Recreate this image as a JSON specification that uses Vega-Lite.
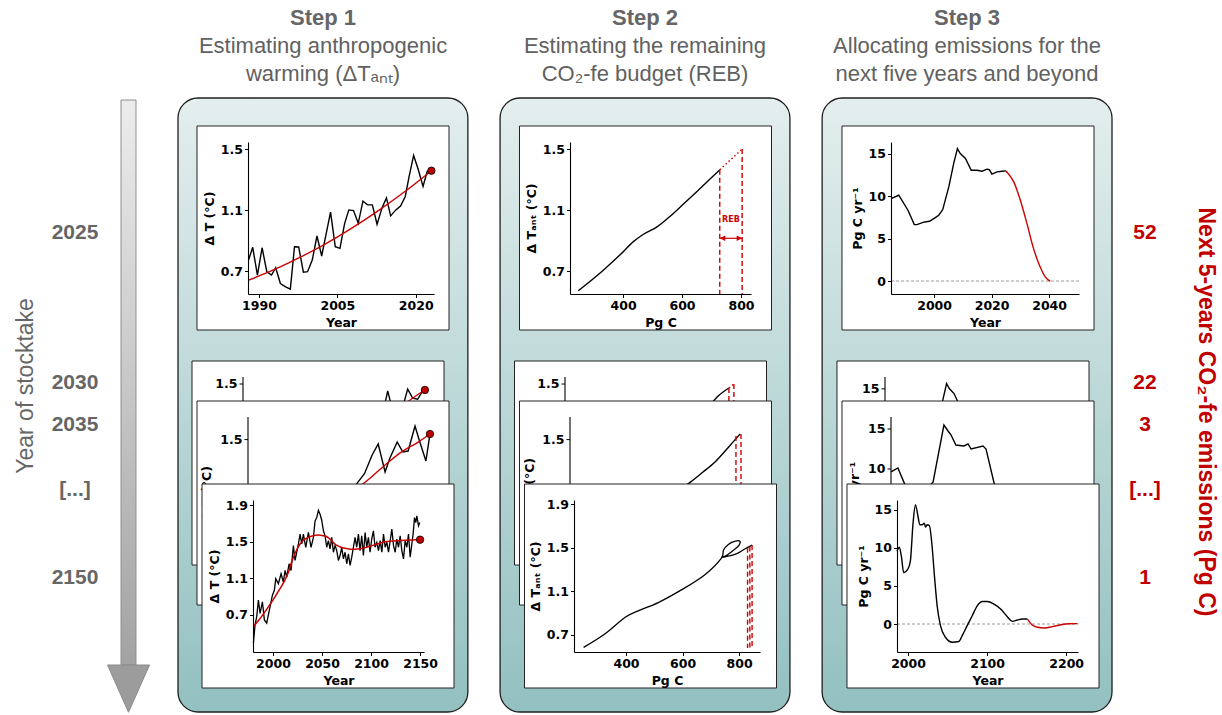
{
"$schema":"https://vega.github.io/schema/vega-lite/v6.json",
"width":1222,"height":715,"autosize":{"type":"none"},"padding":0,"background":"white",
"config":{"view":{"stroke":null},
 "axis":{"domainColor":"black","domainWidth":1.1,"tickColor":"black","tickWidth":1,"tickSize":3.5,"labelFont":"DejaVu Sans","labelFontWeight":"bold","labelFontSize":12.5,"labelColor":"black","labelPadding":2,"titleFont":"DejaVu Sans","titleFontWeight":"bold","titleFontSize":12.5,"titleColor":"black","titlePadding":4,"grid":false,"labelFlush":false,"labelOverlap":false,"labelBound":false}},
"resolve":{"scale":{"x":"independent","y":"independent"},"axis":{"x":"independent","y":"independent"}},
"datasets":{
"steps":[{"step":"Step 1"},{"step":"Step 2"},{"step":"Step 3"}],
"titles":[
{"step":"Step 1","line":"head","text":"Step 1"},{"step":"Step 1","line":"l1","text":"Estimating anthropogenic"},{"step":"Step 1","line":"l2","text":"warming (ΔTₐₙₜ)"},
{"step":"Step 2","line":"head","text":"Step 2"},{"step":"Step 2","line":"l1","text":"Estimating the remaining"},{"step":"Step 2","line":"l2","text":"CO₂-fe budget (REB)"},
{"step":"Step 3","line":"head","text":"Step 3"},{"step":"Step 3","line":"l1","text":"Allocating emissions for the"},{"step":"Step 3","line":"l2","text":"next five years and beyond"}],
"stocktakes":[{"slot":0,"year":"2025","emis":"52"},{"slot":1,"year":"2030","emis":"22"},{"slot":2,"year":"2035","emis":"3"},{"slot":3,"year":"[...]","emis":"[...]"},{"slot":4,"year":"2150","emis":"1"}],
"ticks_T":[{"y":0.7,"label":"0.7"},{"y":1.1,"label":"1.1"},{"y":1.5,"label":"1.5"}],
"ticks_E":[{"y":0,"label":"0"},{"y":5,"label":"5"},{"y":10,"label":"10"},{"y":15,"label":"15"}],
"p1a_obs":[{"x":1988.0,"y":0.772},{"x":1988.8,"y":0.856},{"x":1989.7,"y":0.674},{"x":1990.6,"y":0.853},{"x":1991.5,"y":0.696},{"x":1992.4,"y":0.674},{"x":1993.2,"y":0.722},{"x":1994.1,"y":0.619},{"x":1995.1,"y":0.597},{"x":1996.0,"y":0.582},{"x":1996.8,"y":0.86},{"x":1997.6,"y":0.858},{"x":1998.5,"y":0.693},{"x":1999.3,"y":0.696},{"x":2000.2,"y":0.772},{"x":2001.1,"y":0.93},{"x":2002.0,"y":0.799},{"x":2003.7,"y":1.086},{"x":2004.6,"y":0.86},{"x":2005.5,"y":0.849},{"x":2006.4,"y":1.013},{"x":2007.2,"y":1.101},{"x":2008.1,"y":1.097},{"x":2009.0,"y":1.013},{"x":2009.9,"y":1.158},{"x":2010.8,"y":1.134},{"x":2011.7,"y":1.134},{"x":2012.6,"y":1.007},{"x":2013.6,"y":1.119},{"x":2014.4,"y":1.18},{"x":2015.2,"y":1.062},{"x":2016.2,"y":1.101},{"x":2017.1,"y":1.127},{"x":2018.0,"y":1.189},{"x":2018.8,"y":1.331},{"x":2019.6,"y":1.458},{"x":2020.5,"y":1.364},{"x":2021.4,"y":1.255},{"x":2022.2,"y":1.353},{"x":2023.0,"y":1.358}],
"p1a_fit":[{"x":1988,"y":0.641},{"x":1993,"y":0.711},{"x":1998,"y":0.793},{"x":2003,"y":0.884},{"x":2008,"y":0.987},{"x":2013,"y":1.1},{"x":2018,"y":1.223},{"x":2023,"y":1.358}],
"p1a_end":[{"x":2023,"y":1.358}],
"p2a_curve":[{"x":248,"y":0.571},{"x":333,"y":0.706},{"x":389,"y":0.805},{"x":435,"y":0.893},{"x":468,"y":0.94},{"x":514,"y":0.988},{"x":559,"y":1.058},{"x":604,"y":1.138},{"x":649,"y":1.219},{"x":695,"y":1.303},{"x":728,"y":1.364}],
"p2a_extra":[{"x":728,"y":1.364},{"x":804,"y":1.5}],
"p2a_reb":[{"x":728,"y":1.364,"y0":0.55},{"x":804,"y":1.5,"y0":0.55}],
"p2a_span":[{"x":728,"x1":804,"y":0.915}],
"p2a_heads":[{"x":728,"y":0.915,"dir":"left"},{"x":804,"y":0.915,"dir":"right"}],
"p2a_label":[{"x":766,"y":1.035,"text":"REB"}],
"p3a_zero":[{"x":1985,"y":0},{"x":2050.4,"y":0}],
"p3a_hist":[{"x":1985.0,"y":9.72},{"x":1987.7,"y":10.12},{"x":1990.9,"y":8.35},{"x":1993.1,"y":6.65},{"x":1994.0,"y":6.65},{"x":1996.7,"y":6.97},{"x":1998.4,"y":7.05},{"x":2000.4,"y":7.48},{"x":2001.6,"y":7.76},{"x":2003.0,"y":8.43},{"x":2005.1,"y":11.1},{"x":2006.8,"y":13.86},{"x":2008.1,"y":15.63},{"x":2009.1,"y":15.04},{"x":2010.9,"y":14.45},{"x":2012.9,"y":13.07},{"x":2014.9,"y":13.07},{"x":2016.7,"y":12.95},{"x":2018.4,"y":13.19},{"x":2019.2,"y":13.15},{"x":2020.1,"y":12.6},{"x":2021.9,"y":12.87},{"x":2023.6,"y":12.95},{"x":2025.0,"y":12.99}],
"p3a_alloc":[{"x":2025.0,"y":12.99},{"x":2026.3,"y":12.45},{"x":2027.7,"y":11.69},{"x":2030.0,"y":9.53},{"x":2032.3,"y":6.77},{"x":2034.6,"y":3.82},{"x":2036.9,"y":1.65},{"x":2038.7,"y":0.47},{"x":2040.4,"y":0.0}],
"b1a_obs":[{"x":2012.0,"y":1.03},{"x":2014.4,"y":1.18},{"x":2016.2,"y":1.1},{"x":2018.0,"y":1.19},{"x":2019.0,"y":1.33},{"x":2019.9,"y":1.455},{"x":2020.6,"y":1.37},{"x":2021.5,"y":1.26},{"x":2022.5,"y":1.35},{"x":2023.4,"y":1.37},{"x":2024.3,"y":1.467},{"x":2025.4,"y":1.408},{"x":2026.5,"y":1.4},{"x":2027.6,"y":1.455},{"x":2028.1,"y":1.461}],
"b1a_fit":[{"x":2010,"y":1.03},{"x":2015,"y":1.14},{"x":2020,"y":1.26},{"x":2024,"y":1.376},{"x":2028.1,"y":1.461}],
"b1a_end":[{"x":2028.1,"y":1.461}],
"b1b_obs":[{"x":2010,"y":1.0},{"x":2013,"y":1.1},{"x":2015.0,"y":1.181},{"x":2016.8,"y":1.25},{"x":2018.7,"y":1.387},{"x":2020.2,"y":1.468},{"x":2021.9,"y":1.262},{"x":2023.1,"y":1.365},{"x":2024.9,"y":1.482},{"x":2026.3,"y":1.409},{"x":2027.6,"y":1.416},{"x":2029.3,"y":1.6},{"x":2030.5,"y":1.482},{"x":2032.0,"y":1.343},{"x":2033.0,"y":1.541}],
"b1b_fit":[{"x":2010,"y":1.06},{"x":2016.7,"y":1.181},{"x":2021.9,"y":1.314},{"x":2026,"y":1.41},{"x":2030.1,"y":1.482},{"x":2033,"y":1.541}],
"b1b_end":[{"x":2033,"y":1.541}],
"b2a_curve":[{"x":600,"y":1.1},{"x":650,"y":1.2},{"x":700,"y":1.33},{"x":736,"y":1.415},{"x":776,"y":1.474}],
"b2a_extra":[{"x":776,"y":1.474},{"x":793,"y":1.5}],
"b2a_reb":[{"x":776,"y":1.474,"y0":0.55},{"x":793,"y":1.5,"y0":0.55}],
"b2b_curve":[{"x":560,"y":1.1},{"x":624,"y":1.181},{"x":670,"y":1.26},{"x":712,"y":1.336},{"x":760,"y":1.45},{"x":797,"y":1.541}],
"b2b_reb":[{"x":783,"y":1.526,"y0":0.56},{"x":800,"y":1.541,"y0":0.56}],
"b3b_curve":[{"x":1985,"y":9.63},{"x":1988,"y":10.13},{"x":1991.5,"y":7.75},{"x":1995,"y":6.7},{"x":1999,"y":7.1},{"x":2001.5,"y":7.75},{"x":2003.3,"y":8.38},{"x":2008,"y":15.5},{"x":2009.8,"y":14.75},{"x":2011.1,"y":14.25},{"x":2013.2,"y":13.0},{"x":2016.7,"y":12.88},{"x":2018.5,"y":13.13},{"x":2019.8,"y":12.5},{"x":2025,"y":12.88},{"x":2026.3,"y":12.5},{"x":2030.2,"y":7.75},{"x":2033,"y":4.0},{"x":2036,"y":1.5}],
"p1c_obs":[{"x":1980.0,"y":0.394},{"x":1981.7,"y":0.592},{"x":1983.4,"y":0.682},{"x":1985.1,"y":0.862},{"x":1986.8,"y":0.718},{"x":1989.2,"y":0.844},{"x":1991.2,"y":0.646},{"x":1993.6,"y":0.61},{"x":1997.0,"y":0.79},{"x":1999.4,"y":0.916},{"x":2001.4,"y":0.97},{"x":2002.8,"y":1.096},{"x":2005.5,"y":1.042},{"x":2008.2,"y":1.15},{"x":2010.6,"y":1.06},{"x":2012.3,"y":1.186},{"x":2014.0,"y":1.114},{"x":2016.4,"y":1.259},{"x":2018.4,"y":1.186},{"x":2020.8,"y":1.457},{"x":2022.5,"y":1.295},{"x":2025.9,"y":1.475},{"x":2027.6,"y":1.583},{"x":2029.3,"y":1.475},{"x":2031.0,"y":1.583},{"x":2033.4,"y":1.439},{"x":2036.1,"y":1.601},{"x":2038.8,"y":1.439},{"x":2041.2,"y":1.547},{"x":2042.9,"y":1.727},{"x":2044.6,"y":1.763},{"x":2046.3,"y":1.842},{"x":2048.0,"y":1.799},{"x":2049.7,"y":1.734},{"x":2051.4,"y":1.619},{"x":2053.1,"y":1.565},{"x":2054.8,"y":1.439},{"x":2056.5,"y":1.511},{"x":2058.2,"y":1.421},{"x":2059.9,"y":1.547},{"x":2061.6,"y":1.385},{"x":2063.3,"y":1.457},{"x":2065.0,"y":1.403},{"x":2066.7,"y":1.295},{"x":2068.4,"y":1.349},{"x":2070.1,"y":1.439},{"x":2071.8,"y":1.313},{"x":2073.5,"y":1.385},{"x":2075.2,"y":1.259},{"x":2076.9,"y":1.367},{"x":2078.6,"y":1.241},{"x":2080.3,"y":1.331},{"x":2082.0,"y":1.439},{"x":2083.7,"y":1.547},{"x":2085.4,"y":1.439},{"x":2087.1,"y":1.583},{"x":2088.8,"y":1.403},{"x":2090.5,"y":1.565},{"x":2092.2,"y":1.349},{"x":2093.9,"y":1.601},{"x":2095.6,"y":1.439},{"x":2097.3,"y":1.547},{"x":2099.0,"y":1.385},{"x":2100.7,"y":1.529},{"x":2102.4,"y":1.619},{"x":2104.1,"y":1.439},{"x":2105.9,"y":1.493},{"x":2107.6,"y":1.403},{"x":2109.3,"y":1.511},{"x":2111.0,"y":1.385},{"x":2112.7,"y":1.583},{"x":2114.4,"y":1.439},{"x":2116.1,"y":1.493},{"x":2117.8,"y":1.385},{"x":2119.5,"y":1.511},{"x":2121.2,"y":1.637},{"x":2122.9,"y":1.457},{"x":2124.6,"y":1.385},{"x":2126.3,"y":1.529},{"x":2128.0,"y":1.439},{"x":2129.7,"y":1.565},{"x":2131.4,"y":1.403},{"x":2133.1,"y":1.313},{"x":2134.8,"y":1.511},{"x":2136.5,"y":1.439},{"x":2138.2,"y":1.583},{"x":2139.9,"y":1.331},{"x":2141.6,"y":1.475},{"x":2142.9,"y":1.583},{"x":2144.3,"y":1.763},{"x":2145.6,"y":1.709},{"x":2146.7,"y":1.781},{"x":2148.4,"y":1.673},{"x":2149.7,"y":1.709}],
"p1c_fit":[{"x":1980,"y":0.574},{"x":1986,"y":0.65},{"x":1991.9,"y":0.736},{"x":1997,"y":0.815},{"x":2002,"y":0.898},{"x":2007,"y":0.985},{"x":2012,"y":1.078},{"x":2016,"y":1.175},{"x":2019,"y":1.277},{"x":2023,"y":1.385},{"x":2027.6,"y":1.475},{"x":2031,"y":1.515},{"x":2036,"y":1.547},{"x":2041,"y":1.565},{"x":2046,"y":1.572},{"x":2051,"y":1.566},{"x":2055,"y":1.554},{"x":2059,"y":1.52},{"x":2063,"y":1.475},{"x":2068,"y":1.445},{"x":2073.5,"y":1.428},{"x":2080,"y":1.418},{"x":2087,"y":1.421},{"x":2094,"y":1.435},{"x":2101,"y":1.457},{"x":2108,"y":1.48},{"x":2114,"y":1.5},{"x":2121,"y":1.507},{"x":2128,"y":1.511},{"x":2135,"y":1.515},{"x":2141.6,"y":1.518},{"x":2150,"y":1.522}],
"p1c_end":[{"x":2150,"y":1.522}],
"p2c_curve":[{"i":0,"x":250,"y":0.586},{"i":1,"x":326,"y":0.711},{"i":2,"x":397,"y":0.863},{"i":3,"x":443,"y":0.921},{"i":4,"x":514,"y":0.997},{"i":5,"x":596,"y":1.113},{"i":6,"x":678,"y":1.25},{"i":7,"x":737,"y":1.402},{"i":8,"x":745,"y":1.479},{"i":9,"x":762,"y":1.53},{"i":10,"x":784,"y":1.558},{"i":11,"x":802,"y":1.561},{"i":12,"x":800,"y":1.524},{"i":13,"x":781,"y":1.479},{"i":14,"x":758,"y":1.433},{"i":15,"x":742,"y":1.412},{"i":16,"x":765,"y":1.424},{"i":17,"x":794,"y":1.448},{"i":18,"x":820,"y":1.488},{"i":19,"x":846,"y":1.524}],
"p2c_reb":[{"x":830,"y":1.5,"y0":0.58},{"x":838,"y":1.51,"y0":0.58},{"x":846,"y":1.524,"y0":0.58}],
"p3c_zero":[{"x":1986,"y":0},{"x":2215,"y":0}],
"p3c_hist":[{"x":1986.0,"y":9.57},{"x":1989.0,"y":10.09},{"x":1991.5,"y":8.91},{"x":1994.5,"y":6.74},{"x":1999.5,"y":7.17},{"x":2002.9,"y":8.26},{"x":2006.3,"y":13.26},{"x":2009.3,"y":15.65},{"x":2012.6,"y":14.13},{"x":2014.8,"y":13.04},{"x":2017.7,"y":13.04},{"x":2020.7,"y":13.26},{"x":2022.0,"y":12.74},{"x":2024.1,"y":13.04},{"x":2027.0,"y":12.91},{"x":2030.4,"y":10.22},{"x":2033.4,"y":6.3},{"x":2036.8,"y":2.39},{"x":2041.0,"y":-0.22},{"x":2047.3,"y":-1.74},{"x":2055.8,"y":-2.39},{"x":2064.3,"y":-2.3},{"x":2068.5,"y":-1.52},{"x":2074.8,"y":-0.22},{"x":2081.2,"y":1.09},{"x":2087.5,"y":2.39},{"x":2093.9,"y":2.96},{"x":2100.2,"y":2.96},{"x":2108.7,"y":2.61},{"x":2117.1,"y":1.96},{"x":2125.6,"y":0.96},{"x":2131.9,"y":0.35},{"x":2138.3,"y":0.52},{"x":2144.6,"y":0.65},{"x":2151.0,"y":0.65}],
"p3c_alloc":[{"x":2151.0,"y":0.65},{"x":2157.3,"y":-0.13},{"x":2163.7,"y":-0.43},{"x":2172.1,"y":-0.52},{"x":2182.7,"y":-0.35},{"x":2193.3,"y":-0.09},{"x":2203.8,"y":0.04},{"x":2214.4,"y":0.05}]
},
"layer":[
{"data":{"name":"steps"},
 "mark":{"type":"rect","fill":{"gradient":"linear","x1":0,"y1":0,"x2":0,"y2":1,"stops":[{"offset":0,"color":"#e4eeee"},{"offset":1,"color":"#93c0c0"}]},"stroke":"#1f1f1f","strokeWidth":1.3,"cornerRadius":20},
 "encoding":{"x":{"field":"step","type":"nominal","scale":{"type":"band","domain":["Step 1","Step 2","Step 3"],"range":[178,1112],"paddingInner":0.1,"paddingOuter":0},"axis":null},
  "y":{"datum":0,"type":"quantitative","scale":{"domain":[0,1],"range":[98,712],"nice":false,"zero":false},"axis":null},"y2":{"datum":1}}},
{"data":{"name":"titles"},
 "encoding":{"x":{"field":"step","type":"nominal","scale":{"type":"point","domain":["Step 1","Step 2","Step 3"],"range":[323,967],"padding":0},"axis":null},
  "y":{"field":"line","type":"nominal","scale":{"type":"point","domain":["head","l1","l2"],"range":[18,74],"padding":0},"axis":null},
  "text":{"field":"text"}},
 "layer":[
  {"transform":[{"filter":"datum.line === 'head'"}],"mark":{"type":"text","font":"Liberation Sans","fontWeight":"bold","fontSize":22,"fill":"#666666","baseline":"middle"}},
  {"transform":[{"filter":"datum.line !== 'head'"}],"mark":{"type":"text","font":"Liberation Sans","fontSize":22,"fill":"#616161","baseline":"middle"}}
 ]},
{"layer":[
  {"data":{"values":[{}]},"mark":{"type":"bar","width":15,"fill":{"gradient":"linear","x1":0,"y1":0,"x2":0,"y2":1,"stops":[{"offset":0,"color":"#ececec"},{"offset":1,"color":"#a3a3a3"}]},"stroke":"#8f8f8f","strokeWidth":1},
   "encoding":{"x":{"datum":2,"type":"quantitative","scale":{"domain":[0,1,2,3,4],"range":[25,75,128.5,1145,1207],"nice":false,"zero":false},"axis":null},
    "y":{"datum":-1,"type":"quantitative","scale":{"domain":[-1,0,1,2,3,4,5],"range":[100,233,383,425,490,578,665],"nice":false,"zero":false},"axis":null},"y2":{"datum":5}}},
  {"data":{"values":[{}]},"mark":{"type":"point","shape":"M -1 0 L 1 0 L 0 2.25 Z","size":1764,"filled":true,"fill":"#9c9c9c","stroke":"#8a8a8a","strokeWidth":1,"opacity":1},
   "encoding":{"x":{"datum":2,"type":"quantitative","scale":{"domain":[0,1,2,3,4],"range":[25,75,128.5,1145,1207],"nice":false,"zero":false},"axis":null},
    "y":{"datum":5,"type":"quantitative","scale":{"domain":[-1,0,1,2,3,4,5],"range":[100,233,383,425,490,578,665],"nice":false,"zero":false},"axis":null}}},
  {"data":{"name":"stocktakes"},"mark":{"type":"text","font":"Liberation Sans","fontWeight":"bold","fontSize":21,"fill":"#666666","align":"center","baseline":"middle"},
   "encoding":{"x":{"datum":1,"type":"quantitative","scale":{"domain":[0,1,2,3,4],"range":[25,75,128.5,1145,1207],"nice":false,"zero":false},"axis":null},
    "y":{"field":"slot","type":"quantitative","scale":{"domain":[-1,0,1,2,3,4,5],"range":[100,233,383,425,490,578,665],"nice":false,"zero":false},"axis":null},"text":{"field":"year"}}},
  {"data":{"name":"stocktakes"},"mark":{"type":"text","font":"Liberation Sans","fontWeight":"bold","fontSize":21,"fill":"#c00000","align":"center","baseline":"middle"},
   "encoding":{"x":{"datum":3,"type":"quantitative","scale":{"domain":[0,1,2,3,4],"range":[25,75,128.5,1145,1207],"nice":false,"zero":false},"axis":null},
    "y":{"field":"slot","type":"quantitative","scale":{"domain":[-1,0,1,2,3,4,5],"range":[100,233,383,425,490,578,665],"nice":false,"zero":false},"axis":null},"text":{"field":"emis"}}},
  {"data":{"values":[{"t":"Year of stocktake"}]},"mark":{"type":"text","angle":270,"font":"Liberation Sans","fontSize":23,"fill":"#666666","align":"center","baseline":"middle"},
   "encoding":{"x":{"datum":0,"type":"quantitative","scale":{"domain":[0,1,2,3,4],"range":[25,75,128.5,1145,1207],"nice":false,"zero":false},"axis":null},
    "y":{"datum":1.07,"type":"quantitative","scale":{"domain":[-1,0,1,2,3,4,5],"range":[100,233,383,425,490,578,665],"nice":false,"zero":false},"axis":null},"text":{"field":"t"}}},
  {"data":{"values":[{"t":"Next 5-years CO₂-fe emissions (Pg C)"}]},"mark":{"type":"text","angle":90,"font":"Liberation Sans","fontWeight":"bold","fontSize":23,"fill":"#c00000","align":"center","baseline":"middle"},
   "encoding":{"x":{"datum":4,"type":"quantitative","scale":{"domain":[0,1,2,3,4],"range":[25,75,128.5,1145,1207],"nice":false,"zero":false},"axis":null},
    "y":{"datum":1.69,"type":"quantitative","scale":{"domain":[-1,0,1,2,3,4,5],"range":[100,233,383,425,490,578,665],"nice":false,"zero":false},"axis":null},"text":{"field":"t"}}}
 ]},
{"data":{"name":"steps"},"mark":{"type":"rect","fill":"white","stroke":"#222222","strokeWidth":1},
 "encoding":{"x":{"field":"step","type":"nominal","scale":{"type":"band","domain":["Step 1","Step 2","Step 3"],"range":[197,1094],"paddingInner":0.2186,"paddingOuter":0},"axis":null},
  "y":{"datum":0,"type":"quantitative","scale":{"domain":[0,1],"range":[126,330],"nice":false,"zero":false},"axis":null},"y2":{"datum":1}}},
{"encoding":{"x":{"field":"x","type":"quantitative","scale":{"domain":[1987.9,2023.5],"range":[248,434],"nice":false,"zero":false},"axis":{"orient":"bottom","offset":-421,"values":[1990,2005,2020],"format":"d","title":"Year","zindex":1}},
  "y":{"field":"y","type":"quantitative","scale":{"domain":[0.55,1.546],"range":[294,142],"nice":false,"zero":false},"axis":{"orient":"left","offset":-248,"values":[0.7,1.1,1.5],"format":".1f","title":"Δ T (°C)","zindex":1}}},
 "layer":[
  {"data":{"name":"p1a_obs"},"mark":{"type":"line","color":"black","strokeWidth":1.4}},
  {"data":{"name":"p1a_fit"},"mark":{"type":"line","color":"#cc0000","strokeWidth":1.4,"interpolate":"monotone"}},
  {"data":{"name":"p1a_end"},"mark":{"type":"point","filled":true,"fill":"#c00000","stroke":"black","strokeWidth":0.8,"size":55,"opacity":1}}
 ]},
{"encoding":{"x":{"field":"x","type":"quantitative","scale":{"domain":[220,834],"range":[570,751],"nice":false,"zero":false},"axis":{"orient":"bottom","offset":-421,"values":[400,600,800],"format":"d","title":"Pg C","zindex":1}},
  "y":{"field":"y","type":"quantitative","scale":{"domain":[0.55,1.546],"range":[294,142],"nice":false,"zero":false},"axis":{"orient":"left","offset":-570,"values":[0.7,1.1,1.5],"format":".1f","title":"Δ Tₐₙₜ (°C)","zindex":1}}},
 "layer":[
  {"data":{"name":"p2a_curve"},"mark":{"type":"line","color":"black","strokeWidth":1.4,"interpolate":"monotone"}},
  {"data":{"name":"p2a_extra"},"mark":{"type":"line","color":"#cc0000","strokeWidth":1.4,"strokeDash":[1.5,2.5]}},
  {"data":{"name":"p2a_reb"},"mark":{"type":"rule","color":"#cc0000","strokeWidth":1.4,"strokeDash":[5,3]},"encoding":{"y2":{"field":"y0"}}},
  {"data":{"name":"p2a_span"},"mark":{"type":"rule","color":"#cc0000","strokeWidth":1.2},"encoding":{"x2":{"field":"x1"}}},
  {"data":{"name":"p2a_heads"},"mark":{"type":"point","filled":true,"fill":"#cc0000","size":30,"opacity":1},"encoding":{"shape":{"field":"dir","type":"nominal","scale":{"domain":["left","right"],"range":["M0,0L2,-1L2,1Z","M0,0L-2,-1L-2,1Z"]},"legend":null}}},
  {"data":{"name":"p2a_label"},"mark":{"type":"text","font":"DejaVu Sans","fontWeight":"bold","fontSize":8,"fill":"#cc0000","align":"center","baseline":"middle"},"encoding":{"text":{"field":"text"}}}
 ]},
{"encoding":{"x":{"field":"x","type":"quantitative","scale":{"domain":[1985,2050.4],"range":[891,1079],"nice":false,"zero":false},"axis":{"orient":"bottom","offset":-421,"values":[2000,2020,2040],"format":"d","title":"Year","zindex":1}},
  "y":{"field":"y","type":"quantitative","scale":{"domain":[-1.53,16.4],"range":[294,142],"nice":false,"zero":false},"axis":{"orient":"left","offset":-891,"values":[0,5,10,15],"format":"d","title":"Pg C yr⁻¹","zindex":1}}},
 "layer":[
  {"data":{"name":"p3a_zero"},"mark":{"type":"line","color":"#9a9a9a","strokeWidth":1,"strokeDash":[3,2]}},
  {"data":{"name":"p3a_hist"},"mark":{"type":"line","color":"black","strokeWidth":1.4}},
  {"data":{"name":"p3a_alloc"},"mark":{"type":"line","color":"#cc0000","strokeWidth":1.4,"interpolate":"monotone"}}
 ]},
{"data":{"name":"steps"},"mark":{"type":"rect","fill":"white","stroke":"#222222","strokeWidth":1},
 "encoding":{"x":{"field":"step","type":"nominal","scale":{"type":"band","domain":["Step 1","Step 2","Step 3"],"range":[192,1089],"paddingInner":0.2186,"paddingOuter":0},"axis":null},
  "y":{"datum":0,"type":"quantitative","scale":{"domain":[0,1],"range":[361,565],"nice":false,"zero":false},"axis":null},"y2":{"datum":1}}},
{"layer":[
  {"data":{"name":"b1a_obs"},"mark":{"type":"line","color":"black","strokeWidth":1.4},"encoding":{"x":{"field":"x","type":"quantitative","scale":{"domain":[1988,2029],"range":[243,429],"nice":false,"zero":false},"axis":null},"y":{"field":"y","type":"quantitative","scale":{"domain":[0.55,1.546],"range":[529,377],"nice":false,"zero":false},"axis":null}}},
  {"data":{"name":"b1a_fit"},"mark":{"type":"line","color":"#cc0000","strokeWidth":1.4,"interpolate":"monotone"},"encoding":{"x":{"field":"x","type":"quantitative","scale":{"domain":[1988,2029],"range":[243,429],"nice":false,"zero":false},"axis":null},"y":{"field":"y","type":"quantitative","scale":{"domain":[0.55,1.546],"range":[529,377],"nice":false,"zero":false},"axis":null}}},
  {"data":{"name":"b1a_end"},"mark":{"type":"point","filled":true,"fill":"#c00000","stroke":"black","strokeWidth":0.8,"size":55,"opacity":1},"encoding":{"x":{"field":"x","type":"quantitative","scale":{"domain":[1988,2029],"range":[243,429],"nice":false,"zero":false},"axis":null},"y":{"field":"y","type":"quantitative","scale":{"domain":[0.55,1.546],"range":[529,377],"nice":false,"zero":false},"axis":null}}},
  {"data":{"values":[{}]},"mark":{"type":"rule","color":"black","strokeWidth":1.1},"encoding":{"x":{"datum":1988,"type":"quantitative","scale":{"domain":[1988,2029],"range":[243,429],"nice":false,"zero":false},"axis":null},"y":{"datum":0.55,"type":"quantitative","scale":{"domain":[0.55,1.546],"range":[529,377],"nice":false,"zero":false},"axis":null},"y2":{"datum":1.546}}},
  {"data":{"name":"ticks_T"},"transform":[{"filter":"datum.y >= 1.5"}],"mark":{"type":"rule","color":"black","strokeWidth":1},"encoding":{"x":{"datum":1988,"type":"quantitative","scale":{"domain":[1988,2029],"range":[243,429],"nice":false,"zero":false},"axis":null},"x2":{"datum":1987.23},"y":{"field":"y","type":"quantitative","scale":{"domain":[0.55,1.546],"range":[529,377],"nice":false,"zero":false},"axis":null}}},
  {"data":{"name":"ticks_T"},"transform":[{"filter":"datum.y >= 1.5"}],"mark":{"type":"text","font":"DejaVu Sans","fontWeight":"bold","fontSize":12.5,"fill":"black","align":"right","baseline":"middle","dx":-5.5},"encoding":{"x":{"datum":1988,"type":"quantitative","scale":{"domain":[1988,2029],"range":[243,429],"nice":false,"zero":false},"axis":null},"y":{"field":"y","type":"quantitative","scale":{"domain":[0.55,1.546],"range":[529,377],"nice":false,"zero":false},"axis":null},"text":{"field":"label"}}}
 ]},
{"layer":[
  {"data":{"name":"b2a_curve"},"mark":{"type":"line","color":"black","strokeWidth":1.4,"interpolate":"monotone"},"encoding":{"x":{"field":"x","type":"quantitative","scale":{"domain":[220,834],"range":[565,746],"nice":false,"zero":false},"axis":null},"y":{"field":"y","type":"quantitative","scale":{"domain":[0.55,1.546],"range":[529,377],"nice":false,"zero":false},"axis":null}}},
  {"data":{"name":"b2a_extra"},"mark":{"type":"line","color":"#cc0000","strokeWidth":1.4,"strokeDash":[1.5,2.5]},"encoding":{"x":{"field":"x","type":"quantitative","scale":{"domain":[220,834],"range":[565,746],"nice":false,"zero":false},"axis":null},"y":{"field":"y","type":"quantitative","scale":{"domain":[0.55,1.546],"range":[529,377],"nice":false,"zero":false},"axis":null}}},
  {"data":{"name":"b2a_reb"},"mark":{"type":"rule","color":"#cc0000","strokeWidth":1.4,"strokeDash":[5,3]},"encoding":{"x":{"field":"x","type":"quantitative","scale":{"domain":[220,834],"range":[565,746],"nice":false,"zero":false},"axis":null},"y":{"field":"y","type":"quantitative","scale":{"domain":[0.55,1.546],"range":[529,377],"nice":false,"zero":false},"axis":null},"y2":{"field":"y0"}}},
  {"data":{"values":[{}]},"mark":{"type":"rule","color":"black","strokeWidth":1.1},"encoding":{"x":{"datum":220,"type":"quantitative","scale":{"domain":[220,834],"range":[565,746],"nice":false,"zero":false},"axis":null},"y":{"datum":0.55,"type":"quantitative","scale":{"domain":[0.55,1.546],"range":[529,377],"nice":false,"zero":false},"axis":null},"y2":{"datum":1.546}}},
  {"data":{"name":"ticks_T"},"transform":[{"filter":"datum.y >= 1.5"}],"mark":{"type":"rule","color":"black","strokeWidth":1},"encoding":{"x":{"datum":220,"type":"quantitative","scale":{"domain":[220,834],"range":[565,746],"nice":false,"zero":false},"axis":null},"x2":{"datum":208.1},"y":{"field":"y","type":"quantitative","scale":{"domain":[0.55,1.546],"range":[529,377],"nice":false,"zero":false},"axis":null}}},
  {"data":{"name":"ticks_T"},"transform":[{"filter":"datum.y >= 1.5"}],"mark":{"type":"text","font":"DejaVu Sans","fontWeight":"bold","fontSize":12.5,"fill":"black","align":"right","baseline":"middle","dx":-5.5},"encoding":{"x":{"datum":220,"type":"quantitative","scale":{"domain":[220,834],"range":[565,746],"nice":false,"zero":false},"axis":null},"y":{"field":"y","type":"quantitative","scale":{"domain":[0.55,1.546],"range":[529,377],"nice":false,"zero":false},"axis":null},"text":{"field":"label"}}}
 ]},
{"layer":[
  {"data":{"name":"p3a_hist"},"mark":{"type":"line","color":"black","strokeWidth":1.4},"encoding":{"x":{"field":"x","type":"quantitative","scale":{"domain":[1985,2055.5],"range":[885,1073],"nice":false,"zero":false},"axis":null},"y":{"field":"y","type":"quantitative","scale":{"domain":[-1.53,16.4],"range":[529,377],"nice":false,"zero":false},"axis":null}}},
  {"data":{"values":[{}]},"mark":{"type":"rule","color":"black","strokeWidth":1.1},"encoding":{"x":{"datum":1985,"type":"quantitative","scale":{"domain":[1985,2055.5],"range":[885,1073],"nice":false,"zero":false},"axis":null},"y":{"datum":-1.53,"type":"quantitative","scale":{"domain":[-1.53,16.4],"range":[529,377],"nice":false,"zero":false},"axis":null},"y2":{"datum":16.4}}},
  {"data":{"name":"ticks_E"},"transform":[{"filter":"datum.y >= 15"}],"mark":{"type":"rule","color":"black","strokeWidth":1},"encoding":{"x":{"datum":1985,"type":"quantitative","scale":{"domain":[1985,2055.5],"range":[885,1073],"nice":false,"zero":false},"axis":null},"x2":{"datum":1983.69},"y":{"field":"y","type":"quantitative","scale":{"domain":[-1.53,16.4],"range":[529,377],"nice":false,"zero":false},"axis":null}}},
  {"data":{"name":"ticks_E"},"transform":[{"filter":"datum.y >= 15"}],"mark":{"type":"text","font":"DejaVu Sans","fontWeight":"bold","fontSize":12.5,"fill":"black","align":"right","baseline":"middle","dx":-5.5},"encoding":{"x":{"datum":1985,"type":"quantitative","scale":{"domain":[1985,2055.5],"range":[885,1073],"nice":false,"zero":false},"axis":null},"y":{"field":"y","type":"quantitative","scale":{"domain":[-1.53,16.4],"range":[529,377],"nice":false,"zero":false},"axis":null},"text":{"field":"label"}}}
 ]},
{"data":{"name":"steps"},"mark":{"type":"rect","fill":"white","stroke":"#222222","strokeWidth":1},
 "encoding":{"x":{"field":"step","type":"nominal","scale":{"type":"band","domain":["Step 1","Step 2","Step 3"],"range":[197,1094],"paddingInner":0.2186,"paddingOuter":0},"axis":null},
  "y":{"datum":0,"type":"quantitative","scale":{"domain":[0,1],"range":[401,605],"nice":false,"zero":false},"axis":null},"y2":{"datum":1}}},
{"layer":[
  {"data":{"name":"b1b_obs"},"mark":{"type":"line","color":"black","strokeWidth":1.4},"encoding":{"x":{"field":"x","type":"quantitative","scale":{"domain":[1988,2034],"range":[248,434],"nice":false,"zero":false},"axis":null},"y":{"field":"y","type":"quantitative","scale":{"domain":[0.55,1.666],"range":[569,417],"nice":false,"zero":false},"axis":null}}},
  {"data":{"name":"b1b_fit"},"mark":{"type":"line","color":"#cc0000","strokeWidth":1.4,"interpolate":"monotone"},"encoding":{"x":{"field":"x","type":"quantitative","scale":{"domain":[1988,2034],"range":[248,434],"nice":false,"zero":false},"axis":null},"y":{"field":"y","type":"quantitative","scale":{"domain":[0.55,1.666],"range":[569,417],"nice":false,"zero":false},"axis":null}}},
  {"data":{"name":"b1b_end"},"mark":{"type":"point","filled":true,"fill":"#c00000","stroke":"black","strokeWidth":0.8,"size":55,"opacity":1},"encoding":{"x":{"field":"x","type":"quantitative","scale":{"domain":[1988,2034],"range":[248,434],"nice":false,"zero":false},"axis":null},"y":{"field":"y","type":"quantitative","scale":{"domain":[0.55,1.666],"range":[569,417],"nice":false,"zero":false},"axis":null}}},
  {"data":{"values":[{}]},"mark":{"type":"rule","color":"black","strokeWidth":1.1},"encoding":{"x":{"datum":1988,"type":"quantitative","scale":{"domain":[1988,2034],"range":[248,434],"nice":false,"zero":false},"axis":null},"y":{"datum":0.55,"type":"quantitative","scale":{"domain":[0.55,1.666],"range":[569,417],"nice":false,"zero":false},"axis":null},"y2":{"datum":1.666}}},
  {"data":{"name":"ticks_T"},"transform":[{"filter":"datum.y >= 1.5"}],"mark":{"type":"rule","color":"black","strokeWidth":1},"encoding":{"x":{"datum":1988,"type":"quantitative","scale":{"domain":[1988,2034],"range":[248,434],"nice":false,"zero":false},"axis":null},"x2":{"datum":1987.13},"y":{"field":"y","type":"quantitative","scale":{"domain":[0.55,1.666],"range":[569,417],"nice":false,"zero":false},"axis":null}}},
  {"data":{"name":"ticks_T"},"transform":[{"filter":"datum.y >= 1.5"}],"mark":{"type":"text","font":"DejaVu Sans","fontWeight":"bold","fontSize":12.5,"fill":"black","align":"right","baseline":"middle","dx":-5.5},"encoding":{"x":{"datum":1988,"type":"quantitative","scale":{"domain":[1988,2034],"range":[248,434],"nice":false,"zero":false},"axis":null},"y":{"field":"y","type":"quantitative","scale":{"domain":[0.55,1.666],"range":[569,417],"nice":false,"zero":false},"axis":null},"text":{"field":"label"}}},
  {"data":{"values":[{"t":"Δ T (°C)"}]},"mark":{"type":"text","angle":270,"font":"DejaVu Sans","fontWeight":"bold","fontSize":12.5,"fill":"black","align":"center","baseline":"middle","xOffset":-41},"encoding":{"x":{"datum":1988,"type":"quantitative","scale":{"domain":[1988,2034],"range":[248,434],"nice":false,"zero":false},"axis":null},"y":{"datum":1.108,"type":"quantitative","scale":{"domain":[0.55,1.666],"range":[569,417],"nice":false,"zero":false},"axis":null},"text":{"field":"t"}}}
 ]},
{"layer":[
  {"data":{"name":"b2b_curve"},"mark":{"type":"line","color":"black","strokeWidth":1.4,"interpolate":"monotone"},"encoding":{"x":{"field":"x","type":"quantitative","scale":{"domain":[220,834],"range":[570,751],"nice":false,"zero":false},"axis":null},"y":{"field":"y","type":"quantitative","scale":{"domain":[0.55,1.666],"range":[569,417],"nice":false,"zero":false},"axis":null}}},
  {"data":{"name":"b2b_reb"},"mark":{"type":"rule","color":"#cc0000","strokeWidth":1.4,"strokeDash":[5,3]},"encoding":{"x":{"field":"x","type":"quantitative","scale":{"domain":[220,834],"range":[570,751],"nice":false,"zero":false},"axis":null},"y":{"field":"y","type":"quantitative","scale":{"domain":[0.55,1.666],"range":[569,417],"nice":false,"zero":false},"axis":null},"y2":{"field":"y0"}}},
  {"data":{"values":[{}]},"mark":{"type":"rule","color":"black","strokeWidth":1.1},"encoding":{"x":{"datum":220,"type":"quantitative","scale":{"domain":[220,834],"range":[570,751],"nice":false,"zero":false},"axis":null},"y":{"datum":0.55,"type":"quantitative","scale":{"domain":[0.55,1.666],"range":[569,417],"nice":false,"zero":false},"axis":null},"y2":{"datum":1.666}}},
  {"data":{"name":"ticks_T"},"transform":[{"filter":"datum.y >= 1.5"}],"mark":{"type":"rule","color":"black","strokeWidth":1},"encoding":{"x":{"datum":220,"type":"quantitative","scale":{"domain":[220,834],"range":[570,751],"nice":false,"zero":false},"axis":null},"x2":{"datum":208.1},"y":{"field":"y","type":"quantitative","scale":{"domain":[0.55,1.666],"range":[569,417],"nice":false,"zero":false},"axis":null}}},
  {"data":{"name":"ticks_T"},"transform":[{"filter":"datum.y >= 1.5"}],"mark":{"type":"text","font":"DejaVu Sans","fontWeight":"bold","fontSize":12.5,"fill":"black","align":"right","baseline":"middle","dx":-5.5},"encoding":{"x":{"datum":220,"type":"quantitative","scale":{"domain":[220,834],"range":[570,751],"nice":false,"zero":false},"axis":null},"y":{"field":"y","type":"quantitative","scale":{"domain":[0.55,1.666],"range":[569,417],"nice":false,"zero":false},"axis":null},"text":{"field":"label"}}},
  {"data":{"values":[{"t":"Δ Tₐₙₜ (°C)"}]},"mark":{"type":"text","angle":270,"font":"DejaVu Sans","fontWeight":"bold","fontSize":12.5,"fill":"black","align":"center","baseline":"middle","xOffset":-40},"encoding":{"x":{"datum":220,"type":"quantitative","scale":{"domain":[220,834],"range":[570,751],"nice":false,"zero":false},"axis":null},"y":{"datum":1.108,"type":"quantitative","scale":{"domain":[0.55,1.666],"range":[569,417],"nice":false,"zero":false},"axis":null},"text":{"field":"t"}}}
 ]},
{"layer":[
  {"data":{"name":"b3b_curve"},"mark":{"type":"line","color":"black","strokeWidth":1.4},"encoding":{"x":{"field":"x","type":"quantitative","scale":{"domain":[1985,2066.7],"range":[891,1079],"nice":false,"zero":false},"axis":null},"y":{"field":"y","type":"quantitative","scale":{"domain":[-2.5,16.5],"range":[569,417],"nice":false,"zero":false},"axis":null}}},
  {"data":{"values":[{}]},"mark":{"type":"rule","color":"black","strokeWidth":1.1},"encoding":{"x":{"datum":1985,"type":"quantitative","scale":{"domain":[1985,2066.7],"range":[891,1079],"nice":false,"zero":false},"axis":null},"y":{"datum":-2.5,"type":"quantitative","scale":{"domain":[-2.5,16.5],"range":[569,417],"nice":false,"zero":false},"axis":null},"y2":{"datum":16.5}}},
  {"data":{"name":"ticks_E"},"transform":[{"filter":"datum.y >= 10"}],"mark":{"type":"rule","color":"black","strokeWidth":1},"encoding":{"x":{"datum":1985,"type":"quantitative","scale":{"domain":[1985,2066.7],"range":[891,1079],"nice":false,"zero":false},"axis":null},"x2":{"datum":1983.48},"y":{"field":"y","type":"quantitative","scale":{"domain":[-2.5,16.5],"range":[569,417],"nice":false,"zero":false},"axis":null}}},
  {"data":{"name":"ticks_E"},"transform":[{"filter":"datum.y >= 10"}],"mark":{"type":"text","font":"DejaVu Sans","fontWeight":"bold","fontSize":12.5,"fill":"black","align":"right","baseline":"middle","dx":-5.5},"encoding":{"x":{"datum":1985,"type":"quantitative","scale":{"domain":[1985,2066.7],"range":[891,1079],"nice":false,"zero":false},"axis":null},"y":{"field":"y","type":"quantitative","scale":{"domain":[-2.5,16.5],"range":[569,417],"nice":false,"zero":false},"axis":null},"text":{"field":"label"}}},
  {"data":{"values":[{"t":"Pg C yr⁻¹"}]},"mark":{"type":"text","angle":270,"font":"DejaVu Sans","fontWeight":"bold","fontSize":12.5,"fill":"black","align":"center","baseline":"middle","xOffset":-36},"encoding":{"x":{"datum":1985,"type":"quantitative","scale":{"domain":[1985,2066.7],"range":[891,1079],"nice":false,"zero":false},"axis":null},"y":{"datum":7,"type":"quantitative","scale":{"domain":[-2.5,16.5],"range":[569,417],"nice":false,"zero":false},"axis":null},"text":{"field":"t"}}}
 ]},
{"data":{"name":"steps"},"mark":{"type":"rect","fill":"white","stroke":"#222222","strokeWidth":1},
 "encoding":{"x":{"field":"step","type":"nominal","scale":{"type":"band","domain":["Step 1","Step 2","Step 3"],"range":[202,1099],"paddingInner":0.2186,"paddingOuter":0},"axis":null},
  "y":{"datum":0,"type":"quantitative","scale":{"domain":[0,1],"range":[484,688],"nice":false,"zero":false},"axis":null},"y2":{"datum":1}}},
{"encoding":{"x":{"field":"x","type":"quantitative","scale":{"domain":[1979.6,2154],"range":[253,424],"nice":false,"zero":false},"axis":{"orient":"bottom","offset":-63,"values":[2000,2050,2100,2150],"format":"d","title":"Year","zindex":1}},
  "y":{"field":"y","type":"quantitative","scale":{"domain":[0.296,1.955],"range":[652,500],"nice":false,"zero":false},"axis":{"orient":"left","offset":-253,"values":[0.7,1.1,1.5,1.9],"format":".1f","title":"Δ T (°C)","zindex":1}}},
 "layer":[
  {"data":{"name":"p1c_obs"},"mark":{"type":"line","color":"black","strokeWidth":1.3}},
  {"data":{"name":"p1c_fit"},"mark":{"type":"line","color":"#cc0000","strokeWidth":1.5,"interpolate":"monotone"}},
  {"data":{"name":"p1c_end"},"mark":{"type":"point","filled":true,"fill":"#c00000","stroke":"black","strokeWidth":0.8,"size":55,"opacity":1}}
 ]},
{"encoding":{"x":{"field":"x","type":"quantitative","scale":{"domain":[216,874],"range":[574,760],"nice":false,"zero":false},"axis":{"orient":"bottom","offset":-63,"values":[400,600,800],"format":"d","title":"Pg C","zindex":1}},
  "y":{"field":"y","type":"quantitative","scale":{"domain":[0.544,1.937],"range":[652,500],"nice":false,"zero":false},"axis":{"orient":"left","offset":-574,"values":[0.7,1.1,1.5,1.9],"format":".1f","title":"Δ Tₐₙₜ (°C)","zindex":1}}},
 "layer":[
  {"data":{"name":"p2c_curve"},"mark":{"type":"line","color":"black","strokeWidth":1.3,"interpolate":"cardinal"},"encoding":{"order":{"field":"i","type":"quantitative"}}},
  {"data":{"name":"p2c_reb"},"mark":{"type":"rule","color":"#cc0000","strokeWidth":1.4,"strokeDash":[5,3]},"encoding":{"y2":{"field":"y0"}}}
 ]},
{"encoding":{"x":{"field":"x","type":"quantitative","scale":{"domain":[1986,2215],"range":[897,1078],"nice":false,"zero":false},"axis":{"orient":"bottom","offset":-63,"values":[2000,2100,2200],"format":"d","title":"Year","zindex":1}},
  "y":{"field":"y","type":"quantitative","scale":{"domain":[-3.68,16.3],"range":[652,500],"nice":false,"zero":false},"axis":{"orient":"left","offset":-897,"values":[0,5,10,15],"format":"d","title":"Pg C yr⁻¹","zindex":1}}},
 "layer":[
  {"data":{"name":"p3c_zero"},"mark":{"type":"line","color":"#9a9a9a","strokeWidth":1,"strokeDash":[3,2]}},
  {"data":{"name":"p3c_hist"},"mark":{"type":"line","color":"black","strokeWidth":1.4,"interpolate":"monotone"}},
  {"data":{"name":"p3c_alloc"},"mark":{"type":"line","color":"#cc0000","strokeWidth":1.4,"interpolate":"monotone"}}
 ]}
]
}
